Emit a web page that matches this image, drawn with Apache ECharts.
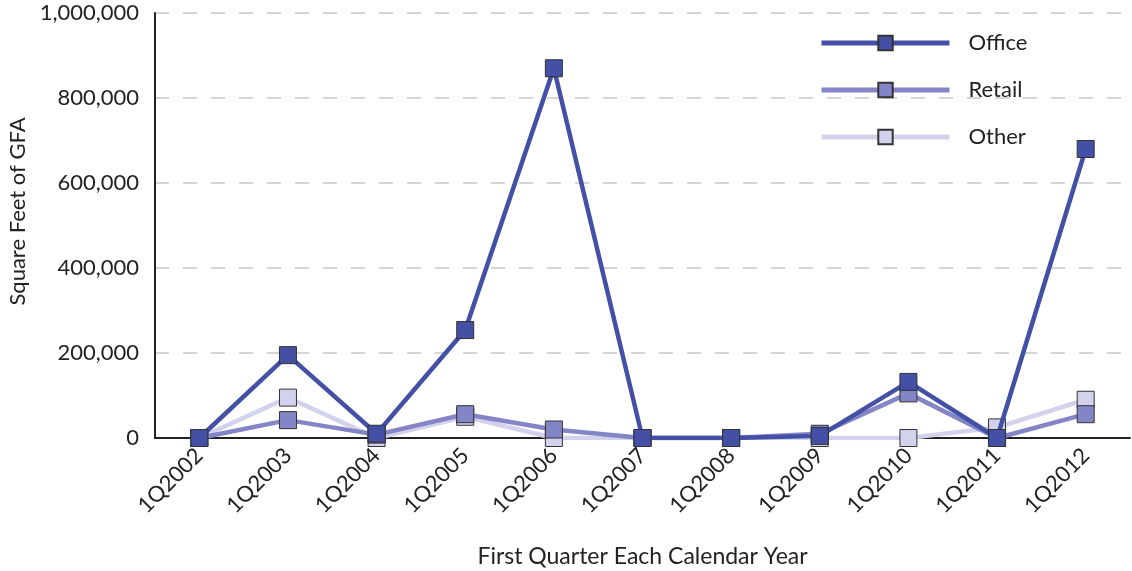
<!DOCTYPE html>
<html><head><meta charset="utf-8">
<script src="https://cdn.jsdelivr.net/npm/echarts@6/dist/echarts.min.js"></script>
<style>html,body{margin:0;padding:0;background:#fff}#c{width:1132px;height:571px}</style>
</head><body><div id="c"></div>
<script>
const categories = ['1Q2002','1Q2003','1Q2004','1Q2005','1Q2006','1Q2007','1Q2008','1Q2009','1Q2010','1Q2011','1Q2012'];
const office = [0, 195000, 10000, 254000, 870000, 0, 0, 5000, 132000, 0, 680000];
const retail = [0, 42000, 8000, 56000, 20000, 0, 0, 10000, 105000, 0, 56000];
const other  = [0, 95000, 0, 50000, 0, 0, 0, 0, 0, 25000, 90000];
const yTicks = [0, 200000, 400000, 600000, 800000, 1000000];

const FONT = 'Lato';
function mk(name, data, color, z) {
  return {
    name, type: 'line', data, z,
    symbol: 'rect', symbolSize: 17,
    lineStyle: { color, width: 4.5 },
    itemStyle: { color, borderColor: '#333', borderWidth: 1 },
    emphasis: { disabled: true }
  };
}
const chart = echarts.init(document.getElementById('c'));
chart.setOption({
  animation: false,
  textStyle: { fontFamily: FONT },
  grid: { left: 155, right: 2, top: 13, bottom: 133, containLabel: false, outerBoundsMode: 'none' },
  legend: {
    data: ['Office', 'Retail', 'Other'],
    orient: 'vertical', left: 814, top: 27,
    itemWidth: 128, itemHeight: 18, itemGap: 25,
    lineStyle: { width: 5 },
    textStyle: { fontFamily: FONT, fontSize: 22, color: '#222', padding: [0, 0, 0, 14] }
  },
  xAxis: {
    type: 'category', data: categories, boundaryGap: true,
    name: 'First Quarter Each Calendar Year', nameLocation: 'middle', nameGap: 107,
    nameTextStyle: { fontFamily: FONT, fontSize: 23, color: '#222' },
    axisLine: { lineStyle: { color: '#222', width: 2 } },
    axisTick: { show: false },
    axisLabel: { rotate: 45, fontSize: 22, color: '#222', margin: 14, fontFamily: FONT }
  },
  yAxis: {
    type: 'value', min: yTicks[0], max: yTicks[yTicks.length - 1], interval: 200000,
    name: 'Square Feet of GFA', nameLocation: 'middle', nameGap: 123,
    nameTextStyle: { fontFamily: FONT, fontSize: 22, color: '#222', padding: [0, 0, 0, 28] },
    axisLine: { show: true, lineStyle: { color: '#222', width: 2 } },
    axisTick: { show: false },
    axisLabel: { fontSize: 22, color: '#222', margin: 16, fontFamily: FONT,
      formatter: v => v.toLocaleString('en-US') },
    splitLine: { lineStyle: { color: '#c8c8c8', type: [14, 14], width: 1.5 } }
  },
  series: [
    mk('Other', other, '#d2d2ec', 2),
    mk('Retail', retail, '#8485c6', 3),
    mk('Office', office, '#4350a5', 4)
  ]
});
</script></body></html>
